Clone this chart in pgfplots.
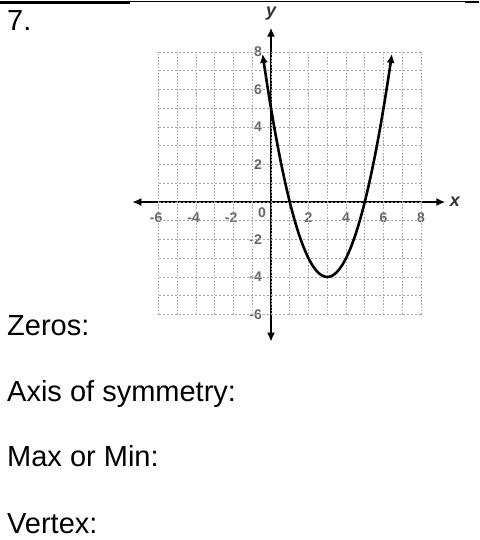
\documentclass[border=0pt]{standalone}
\usepackage{pgfplots}
\pgfplotsset{compat=1.18}
\usepackage{fontspec}
\setmainfont{Liberation Sans}
\usetikzlibrary{arrows.meta}

% the parabola y = (x-3)^2 - 4, read point by point
\pgfplotstableread{
x y
-0.45 7.90
-0.25 6.5625
0 5
0.25 3.5625
0.5 2.25
0.75 1.0625
1 0
1.25 -0.9375
1.5 -1.75
1.75 -2.4375
2 -3
2.25 -3.4375
2.5 -3.75
2.75 -3.9375
3 -4
3.25 -3.9375
3.5 -3.75
3.75 -3.4375
4 -3
4.25 -2.4375
4.5 -1.75
4.75 -0.9375
5 0
5.25 1.0625
5.5 2.25
5.75 3.5625
6 5
6.25 6.5625
6.45 7.90
}\parab

\begin{document}
\begin{tikzpicture}[x=1pt,y=1pt]
\useasboundingbox (0,0) rectangle (479,-540);

% rule across the top of the sheet
\fill[black] (0,-1) rectangle (130,-4);
\fill[black] (130,-1.2) rectangle (465,-2.2);
\fill[black] (465,-1) rectangle (479,-3.5);

\node[anchor=base west, inner sep=0pt, font=\fontsize{29}{30}\selectfont] at (7,-31) {7.};

\begin{axis}[
  at={(132.25pt,-341.7pt)}, anchor=south west,
  x=18.75pt, y=18.75pt,
  xmin=-7.4, xmax=9.3, ymin=-7.45, ymax=9.3,
  axis lines*=middle,
  axis line style={line width=1.8pt, {Latex[length=9pt,width=8pt]}-{Latex[length=9pt,width=8pt]}},
  clip=false,
  major tick length=0pt,
  xtick={-6,-4,-2,2,4,6,8},
  ytick={-6,-4,-2,2,4,6,8},
  xticklabels={\llap{-}6,\llap{-}4,\llap{-}2,2,4,6,8},
  yticklabels={\llap{-}6,\llap{-}4,\llap{-}2,2,4,6,8},
  /pgf/number format/assume math mode=true,
  tick label style={font=\bfseries\fontsize{14}{14}\selectfont, text=black!60,
    fill=white, inner sep=0.6pt},
  xticklabel style={anchor=center, yshift=-15.5pt},
  yticklabel style={anchor=center, xshift=-13pt},
]
% dashed square grid, one unit apart
\pgfplotsinvokeforeach{-6,-5,...,8}{
  \draw[black!35, line width=0.6pt, dash pattern=on 1.6pt off 1.6pt] (axis cs:#1,-6) -- (axis cs:#1,8);
  \draw[black!35, line width=0.6pt, dash pattern=on 2.5pt off 1.5pt] (axis cs:-6,#1) -- (axis cs:8,#1);
}
\node[font=\bfseries\fontsize{14}{14}\selectfont, text=black!60] at (axis cs:-0.48,-0.55) {0};
\node[font=\itshape\bfseries\fontsize{18}{18}\selectfont, text=black!80] at (axis cs:9.8,0) {x};
\node[font=\itshape\bfseries\fontsize{18}{18}\selectfont, text=black!80] at (axis cs:0,10.05) {y};

\addplot[black, line width=2.6pt, smooth, no markers,
  {Latex[length=9pt,width=8pt]}-{Latex[length=9pt,width=8pt]}] table {\parab};
\end{axis}

\node[anchor=base west, inner sep=0pt, font=\fontsize{29}{30}\selectfont] at (7,-335) {Zeros:};
\node[anchor=base west, inner sep=0pt, font=\fontsize{29}{30}\selectfont] at (7,-401.7) {Axis of symmetry:};
\node[anchor=base west, inner sep=0pt, font=\fontsize{29}{30}\selectfont] at (7,-466.7) {Max or Min:};
\node[anchor=base west, inner sep=0pt, font=\fontsize{29}{30}\selectfont] at (7,-533) {Vertex:};
\end{tikzpicture}
\end{document}
